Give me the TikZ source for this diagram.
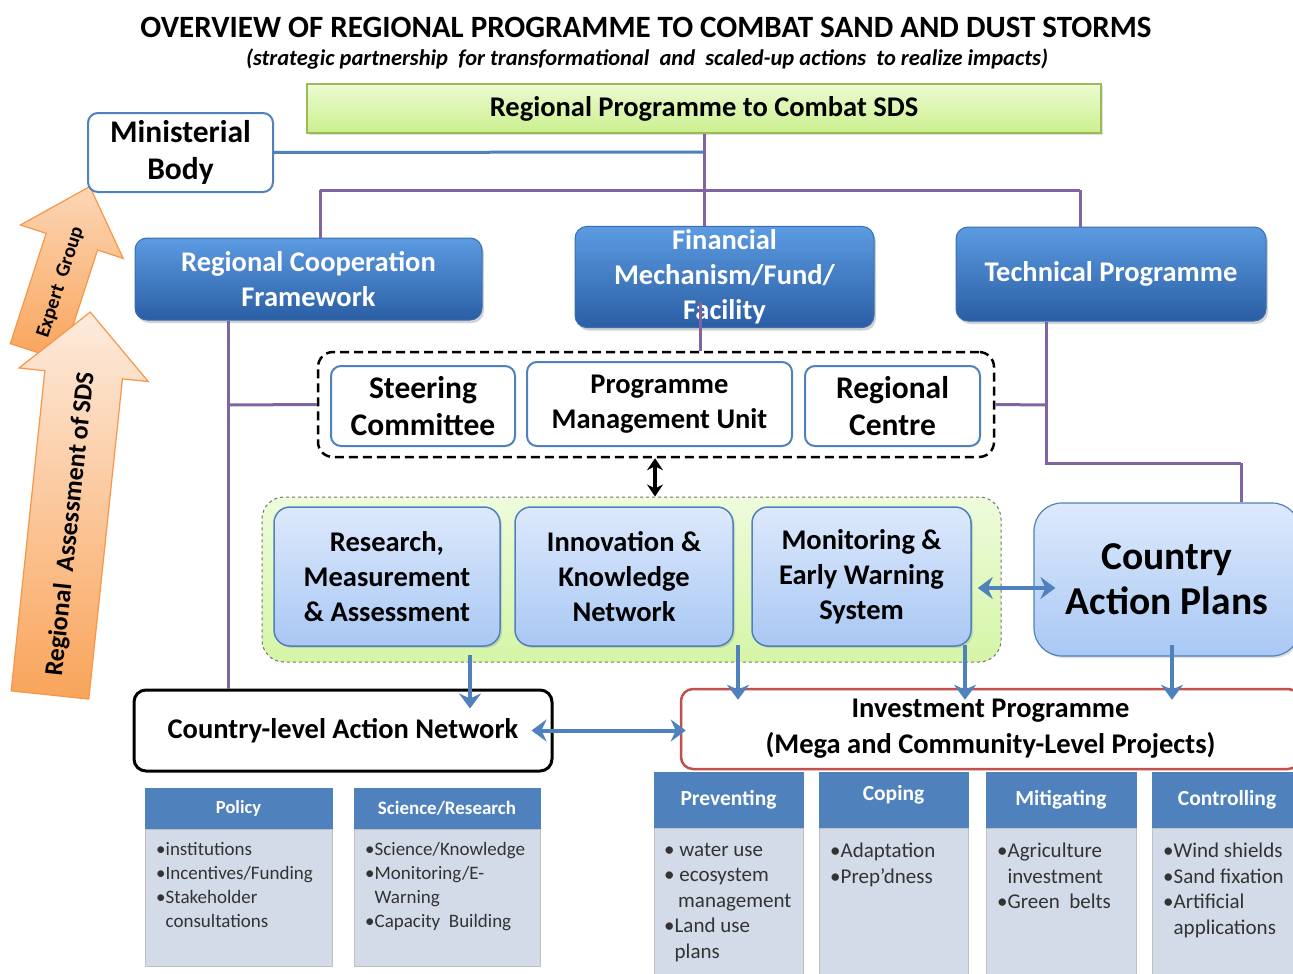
\documentclass[tikz,border=0pt]{standalone}
\usepackage{fontspec}
\setmainfont{Carlito}
\usetikzlibrary{arrows.meta,shadows}
\definecolor{pur}{HTML}{8064A2}
\definecolor{bl}{HTML}{4F81BD}
\definecolor{blA}{HTML}{5C9BE2}
\definecolor{blB}{HTML}{2A5EA4}
\definecolor{blC}{HTML}{3A6EB0}
\definecolor{ltA}{HTML}{DDE9FC}
\definecolor{ltB}{HTML}{A9C8F4}
\definecolor{grA}{HTML}{EDFAD2}
\definecolor{grB}{HTML}{CBF08E}
\definecolor{grC}{HTML}{9BBB59}
\definecolor{gbA}{HTML}{EEFBDC}
\definecolor{gbB}{HTML}{D5F5A6}
\definecolor{orA}{HTML}{FDEBDD}
\definecolor{orB}{HTML}{F9A45A}
\definecolor{orC}{HTML}{F79646}
\definecolor{redb}{HTML}{C0504D}
\definecolor{bodyc}{HTML}{D3DAE8}
\definecolor{txtg}{HTML}{333333}
\newcommand{\fsz}[2]{\fontsize{#1}{#2}\selectfont}
\begin{document}
\begin{tikzpicture}[x=1pt,y=-1pt,
  bluebox/.style={rounded corners=12pt, top color=blA, bottom color=blB, draw=blC, line width=1pt,
    text=white, align=center, font=\bfseries\fsz{28.5}{35},
    drop shadow={opacity=0.35, shadow xshift=2pt, shadow yshift=-3pt}},
  lightbox/.style={rounded corners=16pt, top color=ltA, bottom color=ltB, draw=bl, line width=1.5pt,
    align=center, font=\bfseries\fsz{28.5}{35},
    drop shadow={opacity=0.25, shadow xshift=2pt, shadow yshift=-2pt}},
  whitebox/.style={rounded corners=10pt, fill=white, draw=bl, line width=2pt, align=center, font=\bfseries\fsz{31.5}{37}},
  purline/.style={draw=pur, line width=3pt},
  bluearrow/.style={draw=bl, line width=4pt, -{Stealth[length=15pt,width=22pt,inset=5pt]}},
  bluedarrow/.style={draw=bl, line width=4pt, {Stealth[length=15pt,width=22pt,inset=5pt]}-{Stealth[length=15pt,width=22pt,inset=5pt]}},
  hdr/.style={fill=bl, draw=bl, text=white, font=\bfseries\fsz{21.5}{24}, inner sep=0pt},
  bdy/.style={fill=bodyc, draw=black!25, line width=0.6pt, inner sep=0pt},
  lst/.style={anchor=north west, align=left, inner sep=0pt, text=txtg, font=\fsz{21}{25.5}},
  orarrow/.style={draw=orC, line width=1.2pt, bottom color=orB, top color=orA}
]
\clip (0,0) rectangle (1293,974);
\fill[white] (0,0) rectangle (1293,974);

% title
\node[font=\bfseries\fsz{31}{36}] (title) at (646,27) {OVERVIEW OF REGIONAL PROGRAMME TO COMBAT SAND AND DUST STORMS};
\node[font=\bfseries\itshape\fsz{22.5}{26}] (subtitle) at (647,59) {(strategic partnership\ \ for transformational\ \ and\ \ scaled-up actions\ \ to realize impacts)};

% orange arrows
\begin{scope}[shift={(36,352)}, rotate=-18]
  \draw[orarrow, top color=orA!70!orB] (-27,0) -- (-27,-116) -- (-54,-116) -- (0,-174) -- (54,-116) -- (27,-116) -- (27,0) -- cycle;
  \node[rotate=72, font=\bfseries\fsz{20}{22}] (expert) at (2,-74) {Expert\ \ Group};
\end{scope}
\begin{scope}[shift={(50,695)}, rotate=-6]
  \draw[orarrow] (-39,0) -- (-39,-322) -- (-65,-322) -- (0,-385) -- (65,-322) -- (39,-322) -- (39,0) -- cycle;
  \node[rotate=84, font=\bfseries\fsz{26}{28}] (regass) at (3,-172) {Regional\ \ Assessment of\,SDS};
\end{scope}

% top box
\node[top color=grA, bottom color=grB, draw=grC, line width=1.5pt, minimum width=794, minimum height=49,
  font=\bfseries\fsz{28.5}{32}, drop shadow={opacity=0.25, shadow xshift=2pt, shadow yshift=-2pt}] (top) at (704,108.5) {Regional Programme to Combat SDS};

% connector coordinates
\coordinate (cM) at (704,152);
\coordinate (cL) at (320,190);
\coordinate (cC) at (704,190);
\coordinate (cR) at (1080,190);
\coordinate (cF) at (700,302);
\coordinate (lx) at (228,405);
\coordinate (rx) at (1046,405);
\coordinate (rc) at (1046,463);
\coordinate (rd) at (1241,463);

% lines behind boxes
\draw[purline] (top.south -| cC) -- (cC);
\draw[purline] (cL) -- (cR);

\node[whitebox, minimum width=185, minimum height=79] (mb) at (180.5,152.5) {Ministerial\\Body};
\draw[draw=bl, line width=3pt] (mb.east) -- (cM);
\draw[purline] (cC) -- (cM);

\node[bluebox, minimum width=347, minimum height=82] (rcf) at (308.5,279) {Regional Cooperation\\Framework};
\node[bluebox, minimum width=299, minimum height=100] (fin) at (724.5,277) {Financial\\Mechanism/Fund/\\Facility};
\node[bluebox, minimum width=310, minimum height=94] (tp) at (1111,274) {Technical Programme};

\draw[purline] (cC) -- (fin.north -| cC);
\draw[purline] (cL) -- (rcf.north -| cL);
\draw[purline] (cR) -- (tp.north -| cR);

% dashed group
\node[draw=black, dashed, dash pattern=on 9pt off 5pt, line width=2.5pt, rounded corners=15pt, fill=white,
  minimum width=676, minimum height=105] (dash) at (656,404.5) {};
\node[whitebox, minimum width=184, minimum height=80] (sc) at (423,406) {Steering\\Committee};
\node[whitebox, font=\bfseries\fsz{28.5}{35}, minimum width=265, minimum height=84] (pmu) at (659.5,404) {Programme\\Management Unit};
\node[whitebox, minimum width=175, minimum height=80] (rcn) at (892.5,406) {Regional\\Centre};

\draw[purline] (cF) -- (dash.north -| cF);
\draw[purline] (rcf.south -| lx) -- (lx);
\draw[purline] (lx) -- (dash.west);
\draw[purline] (dash.east) -- (rx);
\draw[purline] (tp.south -| rx) -- (rc) -- (rd);

% green group
\node[top color=gbA, bottom color=gbB, draw=black!55, dashed, line width=1pt, rounded corners=22pt,
  minimum width=739, minimum height=165] (green) at (631.5,579.5) {};
\node[lightbox, minimum width=226, minimum height=139] (rma) at (387,576.5) {Research,\\Measurement\\\& Assessment};
\node[lightbox, minimum width=218, minimum height=139] (ikn) at (624,576.5) {Innovation \&\\Knowledge\\Network};
\node[lightbox, minimum width=219, minimum height=139] (mews) at (861.5,576.5) {Monitoring \&\\Early Warning\\System};

\node[lightbox, rounded corners=28pt, line width=1.2pt, font=\bfseries\fsz{39.5}{45}, minimum width=266, minimum height=153] (cap) at (1167,579.5) {Country\\Action Plans};
\draw[purline] (rd) -- (cap.north -| rd);

\draw[draw=black, line width=3.5pt, {Stealth[length=12pt,width=16pt]}-{Stealth[length=12pt,width=16pt]}] (dash.south -| 655,0) -- (green.north -| 655,0);

% bottom action boxes
\node[rounded corners=12pt, fill=white, draw=black, line width=3pt, font=\bfseries\fsz{28.5}{32}, minimum width=418, minimum height=81] (cla) at (343,730.5) {Country-level Action Network};
\draw[purline] (lx) -- (cla.north -| lx);
\node[rounded corners=12pt, fill=white, draw=redb, line width=2.5pt, font=\bfseries\fsz{28.5}{36}, align=center, minimum width=619, minimum height=80] (inv) at (990.5,729) {Investment Programme\\(Mega and Community-Level Projects)};

% blue arrows
\coordinate (a1) at (470,655);
\coordinate (a2) at (738,645);
\coordinate (a3) at (965,645);
\coordinate (a4) at (1172,645);
\draw[bluearrow] (a1) -- ([yshift=-20pt]cla.north -| a1);
\draw[bluearrow] (a2) -- ([yshift=-12pt]inv.north -| a2);
\draw[bluearrow] (a3) -- ([yshift=-12pt]inv.north -| a3);
\draw[bluearrow] (a4) -- ([yshift=-12pt]inv.north -| a4);
\draw[bluedarrow] ([xshift=-22pt]cla.east) -- ([xshift=6pt]inv.west |- cla.east);
\draw[bluedarrow] ([xshift=6pt]mews.east |- 0,588) -- ([xshift=22pt]cap.west |- 0,588);

% tables
\node[hdr, font=\bfseries\fsz{18.5}{22}, minimum width=187, minimum height=41] (polh) at (238.5,808.5) {Policy};
\node[bdy, minimum width=187, minimum height=137, anchor=north] (polb) at (polh.south) {};
\node[lst, font=\fsz{19}{24}] (poll) at (156,842) {•institutions\\•Incentives/Funding\\•Stakeholder\\\hphantom{•}consultations};

\node[hdr, font=\bfseries\fsz{19}{22}, minimum width=186, minimum height=41] (scih) at (447,808.5) {Science/Research};
\node[bdy, minimum width=186, minimum height=137, anchor=north] (scib) at (scih.south) {};
\node[lst, font=\fsz{19}{24}] (scil) at (365,842) {•Science/Knowledge\\•Monitoring/E-\\\hphantom{•}Warning\\•Capacity\ \ Building};

\node[hdr, minimum width=149, minimum height=56] (prh) at (728.5,800) {Preventing};
\node[bdy, minimum width=149, minimum height=160, anchor=north] (prb) at (prh.south) {};
\node[lst] (prl) at (664,843) {• water use\\• ecosystem\\\hphantom{•\,}management\\•Land use\\\hphantom{•}plans};

\node[hdr, minimum width=149, minimum height=56] (coh) at (893.5,800) {\raisebox{14pt}{Coping}};
\node[bdy, minimum width=149, minimum height=160, anchor=north] (cob) at (coh.south) {};
\node[lst] (col) at (830,843) {•Adaptation\\•Prep’dness};

\node[hdr, minimum width=150, minimum height=56] (mih) at (1061,800) {Mitigating};
\node[bdy, minimum width=150, minimum height=160, anchor=north] (mib) at (mih.south) {};
\node[lst] (mil) at (997,843) {•Agriculture\\\hphantom{•}investment\\•Green\ \ belts};

\node[hdr, minimum width=150, minimum height=56] (cth) at (1227,800) {Controlling};
\node[bdy, minimum width=150, minimum height=160, anchor=north] (ctb) at (cth.south) {};
\node[lst] (ctl) at (1163,843) {•Wind shields\\•Sand fixation\\•Artificial\\\hphantom{•}applications};
\end{tikzpicture}
\end{document}
